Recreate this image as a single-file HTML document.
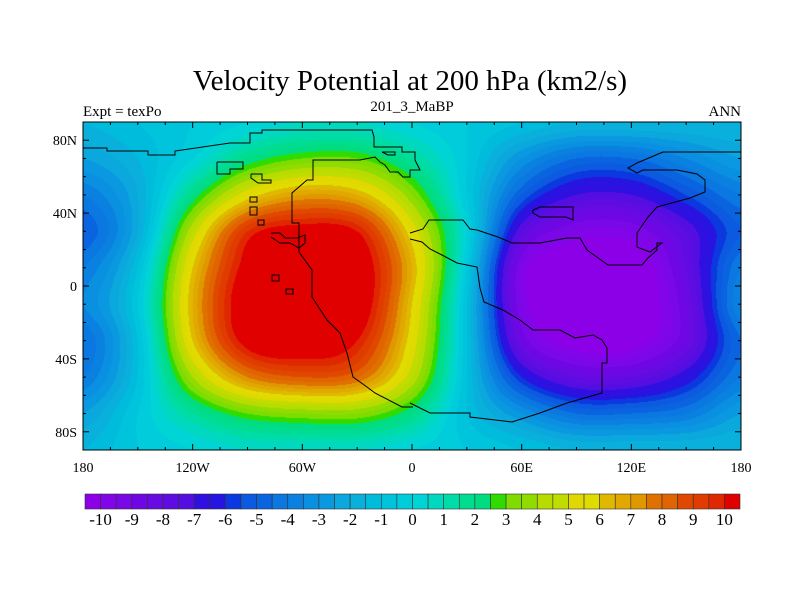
<!DOCTYPE html>
<html><head><meta charset="utf-8"><style>
html,body{margin:0;padding:0;background:#fff;width:800px;height:600px;overflow:hidden;font-family:"Liberation Serif",serif}
#field{position:absolute;left:83px;top:122px}
svg{position:absolute;left:0;top:0}
</style></head><body>
<canvas id="field" width="658" height="328"></canvas>
<svg id="ov" width="800" height="600">
<text x="410" y="90" font-size="29" text-anchor="middle">Velocity Potential at 200 hPa (km2/s)</text>
<text x="83" y="116" font-size="15">Expt = texPo</text>
<text x="412" y="111" font-size="15" text-anchor="middle">201_3_MaBP</text>
<text x="741" y="116" font-size="15" text-anchor="end">ANN</text>
<g fill="none" stroke="#000" stroke-width="1">
<polyline points="83,148 107,148 107,151 148,151 148,155 175,155 175,151 230,143 250,143 250,133 262,133 262,130 372,130 374,137 374,147 402,147 402,152 415,152 415,160 420,170 410,170 410,177 403,177 398,172 390,172 385,165 380,162 375,157 360,160 313,160 313,180 307,180 292,193 292,223 299,223 299,252 312,270 312,297 327,320 340,333 347,353 353,377 367,387 375,393 402,407 413,407"/>
<polyline points="382,152 395,152 395,155 388,155 382,152"/>
<polyline points="410,403 430,413 470,413 470,417 512,422 540,413 567,403 595,395 602,393 602,363 607,363 607,348 602,340 593,335 575,338 560,330 533,330 520,320 503,310 484,302 480,288 477,267 457,263 442,255 430,249 422,242 410,239"/>
<polyline points="410,233 423,229 429,220 463,220 470,229 477,230 498,237 512,243 540,243 567,238 580,238 587,250 608,265 642,265 648,258 657,250 657,243 662,243 650,252 637,247 637,233 648,217 657,207 690,198 705,192 705,180 697,174 677,170 643,170 637,173 628,168 637,163 663,152 741,152"/>
<polyline points="533,210 540,207 573,207 573,220 566,217 540,217 533,213 533,210"/>
<polyline points="217,162 243,162 243,169 230,169 230,174 217,174 217,162"/>
<polyline points="251,174 262,174 262,180 271,180 271,183 258,183 251,178 251,174"/>
<rect x="250" y="197" width="7" height="5"/><rect x="250" y="207" width="7" height="8"/><rect x="258" y="220" width="6" height="5"/>
<rect x="272" y="275" width="7" height="6"/><rect x="286" y="289" width="7" height="5"/>
<polyline points="271,233 280,233 285,238 297,238 305,235 305,243 299,248 290,243 280,243 271,237"/>
</g>
<rect x="83" y="122" width="658" height="328" fill="none" stroke="#000" stroke-width="1"/>
<g id="ticks" stroke="#000" stroke-width="1"></g>
<g id="labels" font-size="14"></g>
<g id="cbar"></g>
</svg>
<script>
const lons=[-180,-150,-120,-90,-60,-30,0,30,60,90,120,150,180];
const lats=[90,70,50,30,10,-10,-30,-50,-70,-90];
const vals=[
[-1.5,-1,-0.5,0,0.5,0.5,0,-0.5,-1,-1.5,-1.5,-1.5,-1.5],
[-2.5,-1.5,0,2,3,3,1.5,-0.5,-3,-4.5,-4.5,-3.5,-2.5],
[-4,-2,2,5.5,7,6.5,3.5,-0.5,-5,-7,-7,-5.5,-4],
[-5,-2,4.5,9.5,10.5,10,5.5,0,-7.5,-9.5,-9.5,-7.5,-5],
[-4,-1,6,10.5,11.5,11,6.5,-0.5,-9.5,-11,-11,-8,-4],
[-3.5,-0.5,6.5,11,11.5,11,6,-1,-9.5,-11,-11,-8.5,-3.5],
[-4.5,-1,6,10.5,11,10,5.5,-1,-8.5,-10.5,-10.5,-8.5,-4.5],
[-4,-1,4,7.5,8.5,8,4.5,-1,-6,-8,-8,-6.5,-4],
[-2.5,-0.5,1.5,3,3.5,3.5,2,-1,-3,-4.5,-4.5,-4,-2.5],
[-1.5,-0.5,0,0.5,0.5,0.5,0,-0.5,-1,-1.5,-1.5,-1.5,-1.5]];
const levelColors=["#8c00e8","#8204e8","#7a08e6","#7006e4","#680ae2","#5e0ce2","#540ee2","#3010e0","#2814e0","#0c38e0","#0c5ae0","#0a64e0","#0a78e0","#0a80e0","#0a90e0","#0a98e0","#0aa8dc","#0ab0dc","#00bcdc","#00c4dc","#00ccdc","#00d4d4","#00d8c0","#00dca8","#00dc90","#00dc80","#30dc00","#80dc00","#90dc00","#b8dc00","#c0dc00","#e0d800","#e0dc00","#e0b800","#e0a800","#e09800","#e07000","#e06400","#e04800","#e03c00","#e02800","#e00000"];
const cbarLabels=[-10,-9,-8,-7,-6,-5,-4,-3,-2,-1,0,1,2,3,4,5,6,7,8,9,10];
const lonTicks=[-180,-120,-60,0,60,120,180];
const lonTickLabels=["180","120W","60W","0","60E","120E","180"];
const latTicks=[80,40,0,-40,-80];
const latTickLabels=["80N","40N","0","40S","80S"];

const PX=83,PY=122,PW=658,PH=328;
const xOf=lon=>PX+(lon+180)/360*PW;
const yOf=lat=>PY+(90-lat)/180*PH;
const NS="http://www.w3.org/2000/svg";
function cr(p0,p1,p2,p3,t){return 0.5*((2*p1)+(-p0+p2)*t+(2*p0-5*p1+4*p2-p3)*t*t+(-p0+3*p1-3*p2+p3)*t*t*t);}
function g(i,j){i=Math.max(0,Math.min(lats.length-1,i));j=Math.max(0,Math.min(lons.length-1,j));return vals[i][j];}
function valueAt(lon,lat){
  const fx=(lon-lons[0])/(lons[1]-lons[0]), fy=(lats[0]-lat)/(lats[0]-lats[1]);
  const j=Math.min(lons.length-2,Math.floor(fx)), i=Math.min(lats.length-2,Math.floor(fy));
  const tx=fx-j, ty=fy-i, r=[];
  for(let k=-1;k<=2;k++) r.push(cr(g(i+k,j-1),g(i+k,j),g(i+k,j+1),g(i+k,j+2),tx));
  return cr(r[0],r[1],r[2],r[3],ty);
}
function hex(c){return [parseInt(c.substr(1,2),16),parseInt(c.substr(3,2),16),parseInt(c.substr(5,2),16)];}
const rgb=levelColors.map(hex);
const cv=document.getElementById('field'),ctx=cv.getContext('2d'),img=ctx.createImageData(PW,PH);
for(let y=0;y<PH;y++){const lat=90-(y+0.5)/PH*180;
 for(let x=0;x<PW;x++){const lon=-180+(x+0.5)/PW*360;
  const v=valueAt(lon,lat);
  let k=Math.floor((v+10)/0.5)+1;k=Math.max(0,Math.min(41,k));
  const c=rgb[k],o=(y*PW+x)*4;img.data[o]=c[0];img.data[o+1]=c[1];img.data[o+2]=c[2];img.data[o+3]=255;}}
ctx.putImageData(img,0,0);

const tk=document.getElementById('ticks');
function line(x1,y1,x2,y2,name){const l=document.createElementNS(NS,'line');l.setAttribute('x1',x1);l.setAttribute('y1',y1);l.setAttribute('x2',x2);l.setAttribute('y2',y2);


tk.appendChild(l);}
for(let lon=-180;lon<=180;lon+=15){const x=xOf(lon),len=lon%60===0?6:3;line(x,PY+PH,x,PY+PH-len,'x-tick');line(x,PY,x,PY+len,'x-tick-top');}
for(let lat=-90;lat<=90;lat+=10){const y=yOf(lat),len=lat%40===0?6:3;line(PX,y,PX+len,y,'y-tick');line(PX+PW,y,PX+PW-len,y,'y-tick-right');}
const lb=document.getElementById('labels');
function txt(x,y,s,anchor,name,size,parent){const t=document.createElementNS(NS,'text');t.setAttribute('x',x);t.setAttribute('y',y);t.setAttribute('text-anchor',anchor);if(size)t.setAttribute('font-size',size);t.textContent=s;


(parent||lb).appendChild(t);}
lonTicks.forEach((l,i)=>txt(xOf(l),472,lonTickLabels[i],'middle','x-tick-label'));
latTicks.forEach((l,i)=>txt(77,yOf(l)+5,latTickLabels[i],'end','y-tick-label'));
const cb=document.getElementById('cbar');
const CX=85,CW=655,CY=494,CH=15,bw=CW/levelColors.length;
levelColors.forEach((c,k)=>{const r=document.createElementNS(NS,'rect');r.setAttribute('x',CX+k*bw);r.setAttribute('y',CY);r.setAttribute('width',bw);r.setAttribute('height',CH);r.setAttribute('fill',c);r.setAttribute('stroke','#333');r.setAttribute('stroke-width','0.6');


cb.appendChild(r);});
cbarLabels.forEach(v=>{const k=(v+10)/0.5+1;txt(CX+k*bw,525,String(v),'middle','colorbar-label',17,cb);});
</script>
</body></html>
